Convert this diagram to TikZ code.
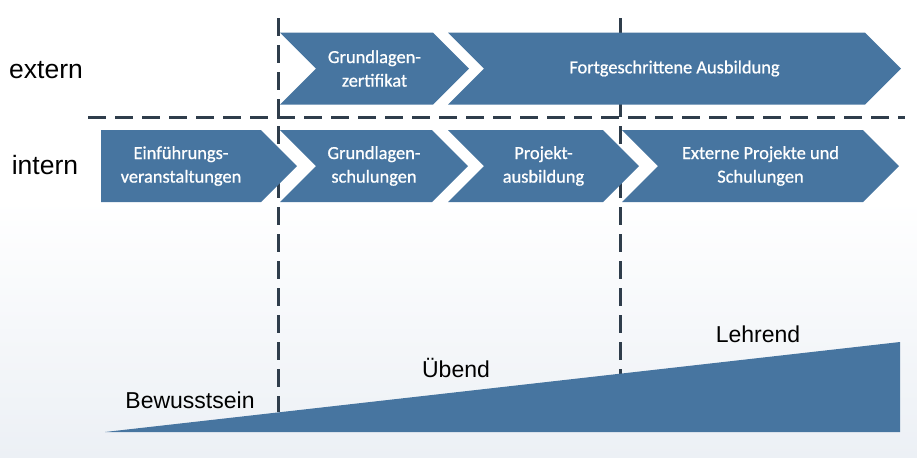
\documentclass[tikz,border=0pt]{standalone}
\usepackage{fontspec}
\setmainfont{Liberation Sans}
\newfontfamily\chevfont[FakeBold=0.8]{Carlito}
\usetikzlibrary{shapes.symbols, positioning, calc}
\definecolor{phaseBlue}{HTML}{4775A0}
\definecolor{lineDark}{HTML}{2F3D4B}
\definecolor{hazeBlue}{HTML}{ECF0F5}
\tikzset{
    phase/.style={signal, signal to=east, signal from=west, signal pointer angle=90, fill=phaseBlue, text=white, inner sep=0pt, outer sep=0pt, minimum height=36pt, align=center, font=\chevfont\fontsize{9.2}{11.8}\selectfont},
    startphase/.style={phase, signal from=nowhere},
    rowlabel/.style={font=\fontsize{13.25}{16}\selectfont, inner sep=0pt},
    levellabel/.style={font=\fontsize{11.5}{14}\selectfont, inner sep=0pt},
    divider/.style={draw=lineDark, line width=1.5pt, dash pattern=on 9pt off 4.5pt},
}

\begin{document}
\begin{tikzpicture}[x=0.5pt, y=-0.5pt]
    % Background
    \useasboundingbox (0,0) rectangle (917,457);
    \shade[top color=white, bottom color=hazeBlue] (0,200) rectangle (917,457);

    % Dividers
    \coordinate (splitL) at (88,117);
    \coordinate (splitR) at (905,117);
    \coordinate (cutA) at (278,18);
    \coordinate (cutAend) at (278,412);
    \coordinate (cutB) at (620,18);
    \coordinate (cutBend) at (620,374);
    \draw[divider] (splitL) -- (splitR);
    \draw[divider] (cutA) -- (cutAend);
    \draw[divider] (cutB) -- (cutBend);

    % Wedge
    \coordinate (wedgeL) at (105,432);
    \coordinate (wedgeR) at (900,432);
    \coordinate (wedgeT) at (900,342);
    \fill[phaseBlue] (wedgeL) -- (wedgeT) -- (wedgeR) -- cycle;

    % Row labels
    \node[rowlabel] (extern) at (46,70) {extern};
    \node[rowlabel] (intern) at (45,165) {intern};

    % Phases extern
    \node[phase, minimum width=94.5pt] (zert) at (374.5,68.5) {Grundlagen-\\zertifikat};
    \node[phase, minimum width=226.5pt] (fort) at (674.5,68.5) {Fortgeschrittene Ausbildung};

    % Phases intern
    \node[startphase, minimum width=98pt] (einf) at (181,166) {Einführungs-\\veranstaltungen};
    \node[phase, minimum width=94pt] (schul) at (374,166) {Grundlagen-\\schulungen};
    \node[phase, minimum width=95.5pt] (proj) at (543.5,166) {Projekt-\\ausbildung};
    \node[phase, minimum width=138.5pt] (ext) at (760.5,166) {Externe Projekte und\\Schulungen};

    % Levels
    \node[levellabel] (bewusst) at (190,400) {Bewusstsein};
    \node[levellabel] (uebend) at (456,368) {Übend};
    \node[levellabel] (lehrend) at (758,334) {Lehrend};
\end{tikzpicture}
\end{document}
